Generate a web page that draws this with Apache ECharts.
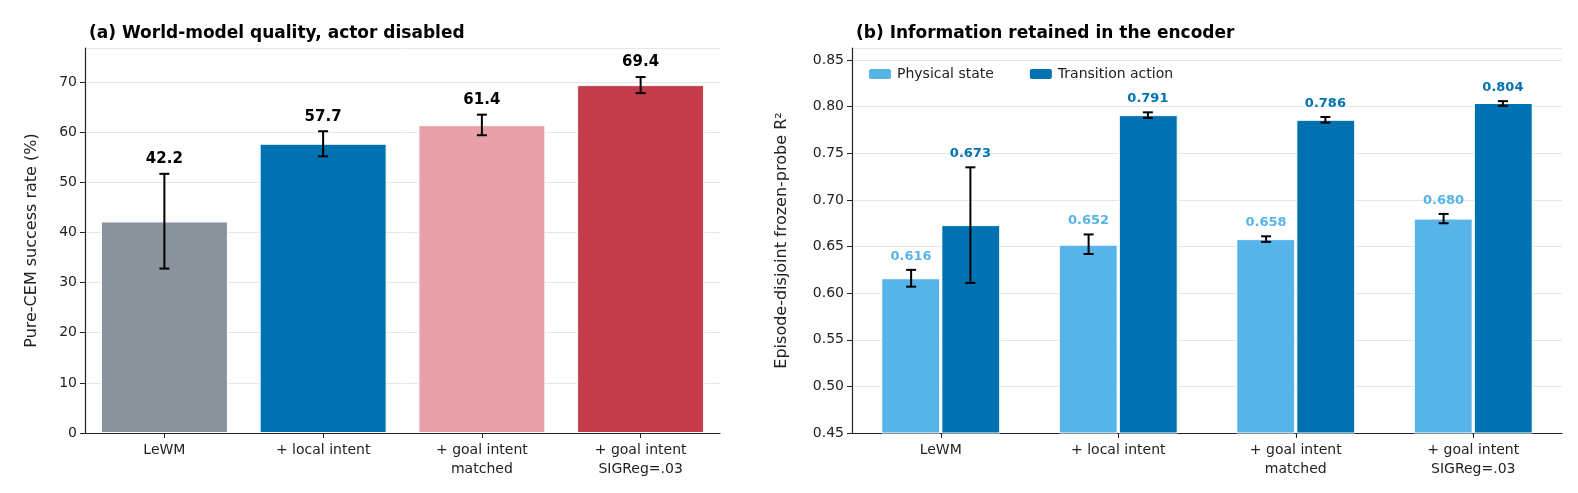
<!DOCTYPE html>
<html><head><meta charset="utf-8">
<script src="https://cdn.jsdelivr.net/npm/echarts@6/dist/echarts.min.js"></script>
<style>html,body{margin:0;background:#fff}#c{width:1578px;height:493px}</style>
</head><body><div id="c"></div>
<script>
const categories = ['LeWM', '+ local intent', '+ goal intent\nmatched', '+ goal intent\nSIGReg=.03'];
const successRate = [42.2, 57.7, 61.4, 69.4];
const successLow = [32.8, 55.2, 59.4, 67.8];
const successHigh = [51.7, 60.2, 63.5, 71.0];
const successColors = ['#8a939c', '#0072b2', '#e8a1a8', '#c43c4c'];
const physical = [0.616, 0.652, 0.658, 0.680];
const physicalLow = [0.607, 0.642, 0.655, 0.675];
const physicalHigh = [0.625, 0.663, 0.661, 0.685];
const transition = [0.673, 0.791, 0.786, 0.804];
const transitionLow = [0.611, 0.788, 0.783, 0.801];
const transitionHigh = [0.735, 0.794, 0.789, 0.806];
const leftTicks = [0, 10, 20, 30, 40, 50, 60, 70];
const rightTicks = [0.45, 0.50, 0.55, 0.60, 0.65, 0.70, 0.75, 0.80, 0.85];

const font = 'DejaVu Sans';
const chart = echarts.init(document.getElementById('c'));

function errSeries(xIdx, yIdx, low, high, vals, offset, labelColor, fmt, fs) {
  return {
    type: 'custom', xAxisIndex: xIdx, yAxisIndex: yIdx, z: 10,
    data: vals.map((v, i) => [i, low[i], high[i], v]),
    renderItem: function (params, api) {
      const i = api.value(0);
      const pLo = api.coord([i, api.value(1)]);
      const pHi = api.coord([i, api.value(2)]);
      const bw = api.size([1, 0])[0];
      const x = pLo[0] + offset * bw;
      const cap = 5;
      return {
        type: 'group', children: [
          {type: 'line', shape: {x1: x, y1: pLo[1], x2: x, y2: pHi[1]}, style: {stroke: '#000', lineWidth: 2}},
          {type: 'line', shape: {x1: x - cap, y1: pLo[1], x2: x + cap, y2: pLo[1]}, style: {stroke: '#000', lineWidth: 2}},
          {type: 'line', shape: {x1: x - cap, y1: pHi[1], x2: x + cap, y2: pHi[1]}, style: {stroke: '#000', lineWidth: 2}},
          {type: 'text', style: {x: x, y: pHi[1] - 7, text: fmt(api.value(3)), fill: labelColor,
            font: 'bold ' + fs + 'px "DejaVu Sans"', align: 'center', verticalAlign: 'bottom'}}
        ]
      };
    }
  };
}

const axisCommon = {
  axisLine: {show: true, lineStyle: {color: '#222', width: 1.2}},
  axisTick: {show: true, lineStyle: {color: '#222'}, length: 5},
  axisLabel: {color: '#222', fontFamily: font, fontSize: 14}
};

chart.setOption({
  animation: false,
  textStyle: {fontFamily: font},
  title: [
    {text: '(a) World-model quality, actor disabled', left: 84, top: 20, textStyle: {fontFamily: font, fontSize: 17, fontWeight: 'bold', color: '#000'}},
    {text: '(b) Information retained in the encoder', left: 851, top: 20, textStyle: {fontFamily: font, fontSize: 17, fontWeight: 'bold', color: '#000'}}
  ],
  legend: {
    left: 862, top: 62, itemWidth: 24, itemHeight: 12, itemGap: 34,
    textStyle: {fontFamily: font, fontSize: 14, color: '#222'},
    data: ['Physical state', 'Transition action']
  },
  grid: [
    {left: 85, right: 858, top: 48, bottom: 60},
    {left: 852, right: 16, top: 48, bottom: 60}
  ],
  xAxis: [
    Object.assign({type: 'category', gridIndex: 0, data: categories}, axisCommon,
      {axisTick: {show: true, alignWithLabel: true, lineStyle: {color: '#222'}}, axisLabel: {color: '#222', fontFamily: font, fontSize: 14, lineHeight: 19}}),
    Object.assign({type: 'category', gridIndex: 1, data: categories}, axisCommon,
      {axisTick: {show: true, alignWithLabel: true, lineStyle: {color: '#222'}}, axisLabel: {color: '#222', fontFamily: font, fontSize: 14, lineHeight: 19}})
  ],
  yAxis: [
    Object.assign({type: 'value', gridIndex: 0, min: 0, max: 76.8, interval: 10,
      name: 'Pure-CEM success rate (%)', nameLocation: 'middle', nameGap: 45,
      nameTextStyle: {fontFamily: font, fontSize: 16, color: '#222'},
      splitLine: {show: true, lineStyle: {color: '#e6e6e6'}}}, axisCommon,
      {axisLabel: {color: '#222', fontFamily: font, fontSize: 14, showMaxLabel: false}}),
    Object.assign({type: 'value', gridIndex: 1, min: 0.45, max: 0.863, interval: 0.05,
      name: 'Episode-disjoint frozen-probe R²', nameLocation: 'middle', nameGap: 62,
      nameTextStyle: {fontFamily: font, fontSize: 16, color: '#222'},
      splitLine: {show: true, lineStyle: {color: '#e6e6e6'}}}, axisCommon,
      {axisLabel: {color: '#222', fontFamily: font, fontSize: 14, showMaxLabel: false, formatter: v => v.toFixed(2)}})
  ],
  series: [
    {type: 'bar', xAxisIndex: 0, yAxisIndex: 0, barCategoryGap: '20%',
      data: successRate.map((v, i) => ({value: v, itemStyle: {color: successColors[i], borderColor: '#fff', borderWidth: 1}}))},
    errSeries(0, 0, successLow, successHigh, successRate, 0, '#000', v => v.toFixed(1), 15),
    {type: 'bar', name: 'Physical state', xAxisIndex: 1, yAxisIndex: 1, barCategoryGap: '33%', barGap: '2%',
      itemStyle: {color: '#56b4e9', borderColor: '#fff', borderWidth: 1}, data: physical},
    {type: 'bar', name: 'Transition action', xAxisIndex: 1, yAxisIndex: 1, barCategoryGap: '33%', barGap: '2%',
      itemStyle: {color: '#0072b2', borderColor: '#fff', borderWidth: 1}, data: transition},
    errSeries(1, 1, physicalLow, physicalHigh, physical, -0.167, '#56b4e9', v => v.toFixed(3), 13),
    errSeries(1, 1, transitionLow, transitionHigh, transition, 0.167, '#0072b2', v => v.toFixed(3), 13)
  ]
});
</script></body></html>
